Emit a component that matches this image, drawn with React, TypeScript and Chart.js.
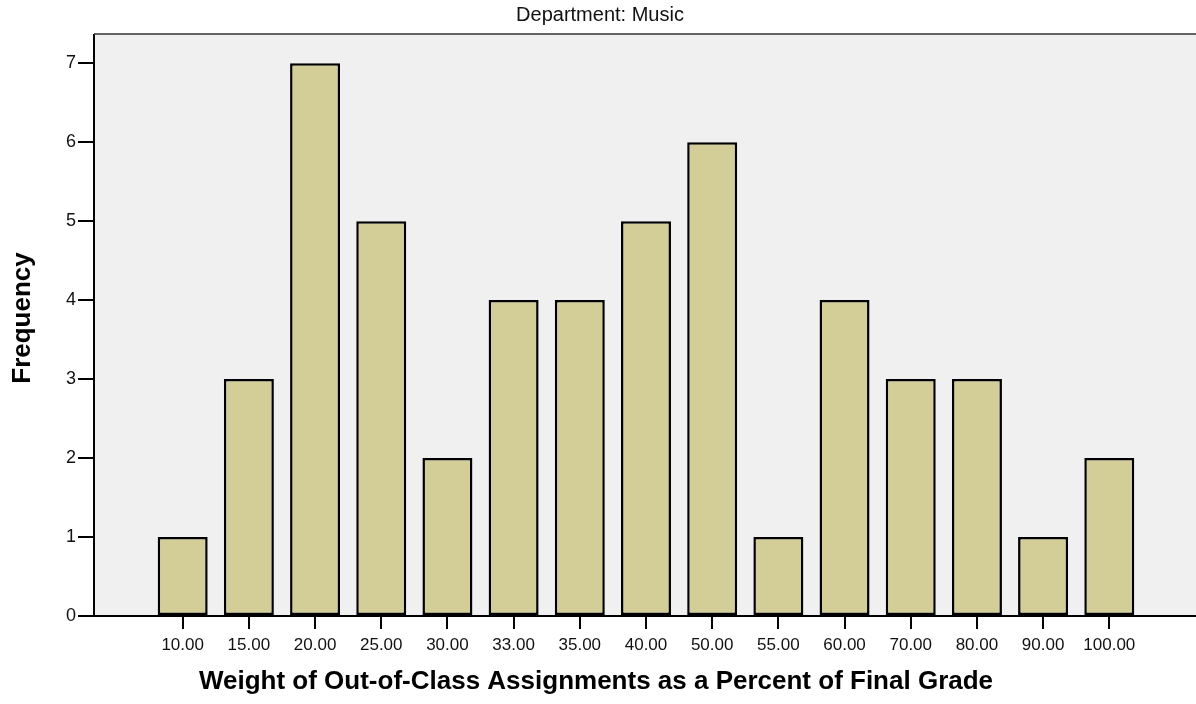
import React, { useEffect, useRef } from "react";
import { Chart, registerables } from "chart.js";

Chart.register(...registerables);

const chartTitle = "Department: Music";
const xAxisTitle = "Weight of Out-of-Class Assignments as a Percent of Final Grade";
const yAxisTitle = "Frequency";
const categories = ["10.00", "15.00", "20.00", "25.00", "30.00", "33.00", "35.00", "40.00", "50.00", "55.00", "60.00", "70.00", "80.00", "90.00", "100.00"];
const frequencies = [1, 3, 7, 5, 2, 4, 4, 5, 6, 1, 4, 3, 3, 1, 2];
const yTicks = [0, 1, 2, 3, 4, 5, 6, 7];

const W = 1196;
const H = 704;
const FONT = "'Liberation Sans', Arial, sans-serif";

const framePlugin = {
  id: "frame",
  beforeDatasetsDraw(chart: any) {
    const { ctx, chartArea: a } = chart;
    ctx.save();
    ctx.fillStyle = "#f0f0f0";
    ctx.fillRect(a.left, a.top, a.right - a.left, a.bottom - a.top);
    ctx.restore();
  },
  afterDraw(chart: any) {
    const { ctx, chartArea: a } = chart;
    ctx.save();
    ctx.strokeStyle = "#000";
    ctx.lineWidth = 2;
    ctx.beginPath();
    ctx.moveTo(a.right, a.bottom);
    ctx.lineTo(a.left, a.bottom);
    ctx.lineTo(a.left, a.top);
    ctx.stroke();
    ctx.strokeStyle = "#333";
    ctx.lineWidth = 1.5;
    ctx.beginPath();
    ctx.moveTo(a.left, a.top);
    ctx.lineTo(a.right, a.top);
    ctx.stroke();
    ctx.fillStyle = "#111";
    ctx.font = `20px ${FONT}`;
    ctx.textAlign = "center";
    ctx.textBaseline = "alphabetic";
    ctx.fillText(chartTitle, W / 2 + 2, 21);
    ctx.fillStyle = "#000";
    ctx.font = `bold 26px ${FONT}`;
    ctx.fillText(xAxisTitle, W / 2 - 2, 689);
    ctx.translate(23, 318);
    ctx.rotate(-Math.PI / 2);
    ctx.textBaseline = "middle";
    ctx.fillText(yAxisTitle, 0, 0);
    ctx.restore();
  },
};

export default function App() {
  const ref = useRef<HTMLCanvasElement>(null);
  useEffect(() => {
    document.body.style.margin = "0";
    const canvas = ref.current!;
    const chart = new Chart(canvas, {
      type: "bar",
      data: {
        datasets: [
          {
            data: frequencies.map((v, i) => ({ x: i, y: v })),
            backgroundColor: "#d3ce98",
            borderColor: "#000",
            borderWidth: 2.5,
            borderSkipped: false,
            barPercentage: 0.755,
            categoryPercentage: 1,
          },
        ],
      },
      options: {
        animation: false,
        responsive: false,
        devicePixelRatio: 1,
        layout: { padding: { top: 34, left: 0, right: 0, bottom: 0 } },
        plugins: { legend: { display: false }, title: { display: false }, tooltip: { enabled: false } },
        scales: {
          x: {
            type: "linear",
            offset: false,
            min: -1.34,
            max: 15.31,
            afterFit: (s: any) => { s.height = 88; },
            afterBuildTicks: (s: any) => { s.ticks = categories.map((_, i) => ({ value: i })); },
            ticks: {
              autoSkip: false,
              maxRotation: 0,
              padding: 6,
              color: "#111",
              font: { family: FONT, size: 17 },
              callback: (v: any) => categories[v as number] ?? "",
            },
            grid: { offset: false, drawOnChartArea: false, drawTicks: true, tickLength: 13, color: "#000", lineWidth: 2 },
            border: { display: false },
            title: { display: false },
          },
          y: {
            min: 0,
            max: 7.37,
            afterFit: (s: any) => { s.width = 94; },
            afterBuildTicks: (s: any) => { s.ticks = yTicks.map((v) => ({ value: v })); },
            ticks: {
              padding: 2,
              color: "#111",
              font: { family: FONT, size: 18 },
            },
            grid: { drawOnChartArea: false, drawTicks: true, tickLength: 16, color: "#000", lineWidth: 2 },
            border: { display: false },
            title: { display: false },
          },
        },
      },
      plugins: [framePlugin],
    } as any);
    return () => chart.destroy();
  }, []);
  return (
    <div style={{ position: "absolute", left: 0, top: 0, width: W, height: H }}>
      <canvas ref={ref} width={W} height={H} style={{ width: W, height: H }} />
    </div>
  );
}
